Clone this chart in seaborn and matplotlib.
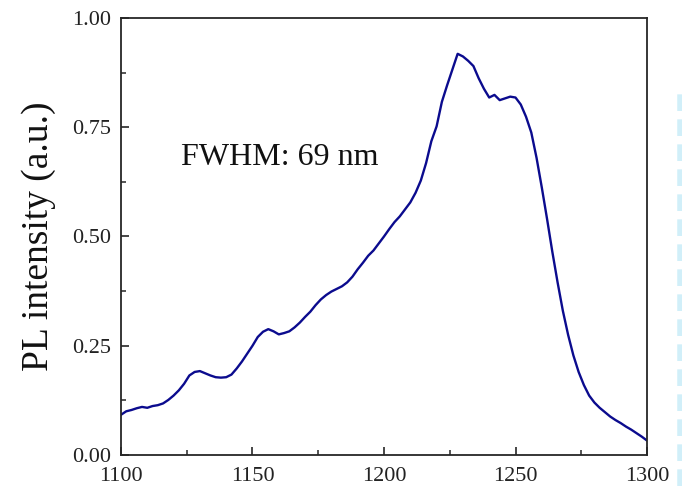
import matplotlib
matplotlib.use("Agg")
import matplotlib.pyplot as plt
from matplotlib.ticker import MultipleLocator
from matplotlib.lines import Line2D
import seaborn as sns
import pandas as pd

# PL spectrum: wavelength (nm) and normalised intensity
wavelength = [1100, 1102, 1104, 1106, 1108, 1110, 1112, 1114, 1116, 1118,
              1120, 1122, 1124, 1126, 1128, 1130, 1132, 1134, 1136, 1138,
              1140, 1142, 1144, 1146, 1148, 1150, 1152, 1154, 1156, 1158,
              1160, 1162, 1164, 1166, 1168, 1170, 1172, 1174, 1176, 1178,
              1180, 1182, 1184, 1186, 1188, 1190, 1192, 1194, 1196, 1198,
              1200, 1202, 1204, 1206, 1208, 1210, 1212, 1214, 1216, 1218,
              1220, 1222, 1224, 1226, 1228, 1230, 1232, 1234, 1236, 1238,
              1240, 1242, 1244, 1246, 1248, 1250, 1252, 1254, 1256, 1258,
              1260, 1262, 1264, 1266, 1268, 1270, 1272, 1274, 1276, 1278,
              1280, 1282, 1284, 1286, 1288, 1290, 1292, 1294, 1296, 1298,
              1300]
intensity = [0.092, 0.100, 0.103, 0.107, 0.110, 0.108, 0.112, 0.114, 0.118, 0.126,
             0.136, 0.148, 0.163, 0.182, 0.190, 0.192, 0.187, 0.182, 0.178, 0.177,
             0.178, 0.184, 0.198, 0.214, 0.232, 0.250, 0.270, 0.282, 0.288, 0.283,
             0.276, 0.279, 0.283, 0.292, 0.303, 0.316, 0.328, 0.343, 0.356, 0.366,
             0.374, 0.380, 0.386, 0.395, 0.408, 0.425, 0.440, 0.456, 0.468, 0.484,
             0.500, 0.517, 0.533, 0.546, 0.562, 0.578, 0.600, 0.628, 0.668, 0.718,
             0.752, 0.808, 0.846, 0.882, 0.918, 0.912, 0.902, 0.890, 0.862, 0.838,
             0.818, 0.824, 0.812, 0.816, 0.820, 0.818, 0.802, 0.774, 0.738, 0.680,
             0.612, 0.540, 0.465, 0.395, 0.330, 0.275, 0.228, 0.190, 0.160, 0.136,
             0.120, 0.108, 0.098, 0.088, 0.080, 0.073, 0.065, 0.058, 0.050, 0.042,
             0.033]

x_ticks = [1100, 1150, 1200, 1250, 1300]
y_ticks = [0.00, 0.25, 0.50, 0.75, 1.00]
annotation = "FWHM: 69 nm"
y_label = "PL intensity (a.u.)"

sns.set_style("ticks")
plt.rcParams["font.family"] = ["Liberation Serif", "DejaVu Serif"]

df = pd.DataFrame({"wavelength": wavelength, "intensity": intensity})

fig = plt.figure(figsize=(6.82, 4.86), dpi=100)
ax = fig.add_axes([0.1774, 0.0638, 0.7713, 0.8992])

sns.lineplot(data=df, x="wavelength", y="intensity", ax=ax,
             color="#0b0b8e", linewidth=1.7)

ax.set_xlim(1100, 1300)
ax.set_ylim(0, 1)
ax.set_xticks(x_ticks)
ax.set_yticks(y_ticks)
ax.set_yticklabels([f"{v:.2f}" for v in y_ticks])
ax.xaxis.set_minor_locator(MultipleLocator(25))
ax.yaxis.set_minor_locator(MultipleLocator(0.125))

for side in ["left", "right", "top", "bottom"]:
    ax.spines[side].set_visible(True)
    ax.spines[side].set_color("#262626")
    ax.spines[side].set_linewidth(1.3)

ax.tick_params(which="major", direction="in", length=6, width=1.2,
               color="#262626", labelsize=16, labelcolor="#222222")
ax.tick_params(which="minor", direction="in", length=3.5, width=1.1,
               color="#262626")
ax.tick_params(axis="x", which="both", top=False, pad=8.5)
ax.tick_params(axis="y", which="both", right=False, pad=7)

ax.set_xlabel("")
ax.set_ylabel(y_label, fontsize=27, color="#111111", labelpad=12)

ax.text(1122.8, 0.68, annotation, fontsize=23, color="#111111",
        va="center", ha="left")

# faint dashed cyan strip along the right edge
fig.add_artist(Line2D([0.9965, 0.9965], [0.0, 0.82], transform=fig.transFigure,
                      color="#c6ecf8", linewidth=4, linestyle=(0, (3, 1.5)),
                      alpha=0.8))

fig.savefig("out.png", dpi=100)
